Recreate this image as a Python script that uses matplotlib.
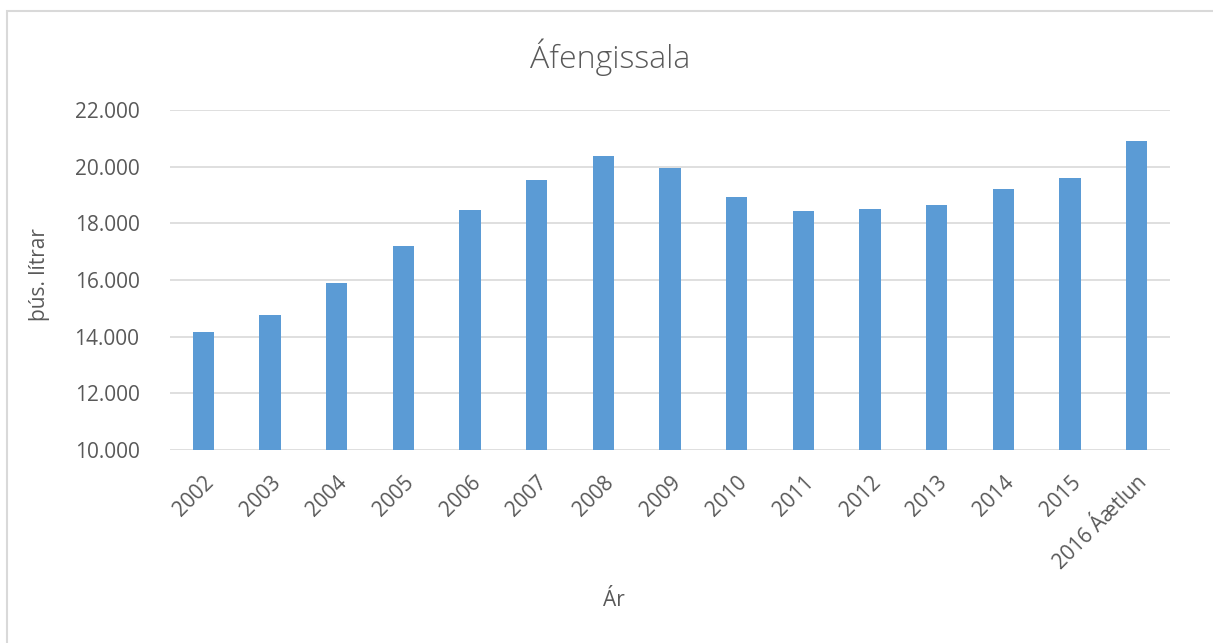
import matplotlib.pyplot as plt
from matplotlib.patches import Rectangle
from matplotlib.ticker import FuncFormatter

# Áfengissala (þús. lítrar) per year
years = ['2002', '2003', '2004', '2005', '2006', '2007', '2008', '2009',
         '2010', '2011', '2012', '2013', '2014', '2015', '2016 Áætlun']
sales = [14150, 14750, 15900, 17210, 18470, 19530, 20380, 19950,
         18930, 18440, 18520, 18660, 19220, 19590, 20910]
y_ticks = [10000, 12000, 14000, 16000, 18000, 20000, 22000]

plt.rcParams['font.family'] = ['Open Sans', 'DejaVu Sans']
text_color = '#595959'

fig = plt.figure(figsize=(12.13, 6.43), dpi=100)
ax = fig.add_axes([170 / 1213, 1 - 450 / 643, 1000 / 1213, 340 / 643])

# chart frame (runs off the right/bottom edge like the screenshot)
fig.patches.append(Rectangle((7 / 1213, -0.1), 1.1, 1 - 11 / 643 + 0.1,
                             transform=fig.transFigure, fill=False,
                             edgecolor='#D9D9D9', linewidth=1.5))

x = range(len(years))
ax.bar(x, sales, width=0.32, color='#5B9BD5', zorder=3)

ax.set_xlim(-0.5, len(years) - 0.5)
ax.set_ylim(10000, 22000)
ax.set_yticks(y_ticks)
ax.yaxis.set_major_formatter(FuncFormatter(lambda v, p: f'{int(v):,}'.replace(',', '.')))
ax.grid(axis='y', color='#D9D9D9', linewidth=1.2, zorder=0)
for s in ax.spines.values():
    s.set_visible(False)

ax.set_xticks(list(x))
ax.set_xticklabels(years, rotation=45, ha='right', rotation_mode='anchor')
ax.tick_params(axis='both', length=0, labelsize=15, labelcolor=text_color)
ax.tick_params(axis='y', pad=22)
ax.tick_params(axis='x', pad=16)

fig.text(610 / 1213, 1 - 57 / 643, 'Áfengissala', ha='center', va='center',
         fontsize=23, color=text_color, fontweight='light')
fig.text(40 / 1213, 1 - 275 / 643, 'þús. lítrar', ha='center', va='center',
         rotation=90, fontsize=15, color=text_color)
fig.text(614 / 1213, 1 - 600 / 643, 'Ár', ha='center', va='center',
         fontsize=15, color=text_color)

fig.savefig('out.png', dpi=100, facecolor='white')
